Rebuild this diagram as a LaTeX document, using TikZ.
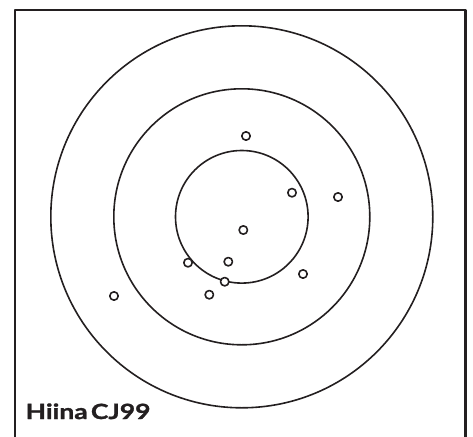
\documentclass[tikz,border=0pt]{standalone}
\usepackage{fontspec}
\newfontfamily\tgfont{Lato}[FakeStretch=1.26, WordSpace=0.5, BoldFeatures={FakeBold=1.4}]
\usepackage{xcolor}
\usepackage{tikz}
\usetikzlibrary{positioning}
\definecolor{tgInk}{HTML}{231F20}
\tikzset{
  tg target/.style={x=1pt, y=-1pt, line cap=round, line join=round},
  tg frame/.style={draw=tgInk, line width=2.4pt, line cap=butt},
  tg ring/.style={draw=tgInk, line width=1.6pt},
  tg shot/.style={circle, draw=tgInk, fill=white, line width=1.6pt,
    minimum size=8.4pt, inner sep=0pt},
  tg label/.style={font=\tgfont\bfseries\fontsize{21}{24}\selectfont,
    text=tgInk, inner sep=0pt, anchor=base west}
}
\begin{document}
\begin{tikzpicture}[tg target]
\useasboundingbox (0,0) rectangle (473,436);
\draw[tg frame] (14.7,440) -- (14.7,10.3) -- (465.3,10.3) -- (465.3,440);
% rings
\coordinate (centre) at (241.8,216.8);
\foreach \r in {191,128,66.3} \draw[tg ring] (centre) circle (\r);
% hits
\foreach \p [count=\i] in {(246,136),(292,192.7),(338,197),(243.3,230),(188,262.7),
  (228.3,261.7),(303,274),(224.7,281.7),(209.3,294.7),(114,296)}
  \node[tg shot] (shot\i) at \p {};
\node[tg label] (name) at (25.5,419) {Hiina CJ99};
\end{tikzpicture}
\end{document}
